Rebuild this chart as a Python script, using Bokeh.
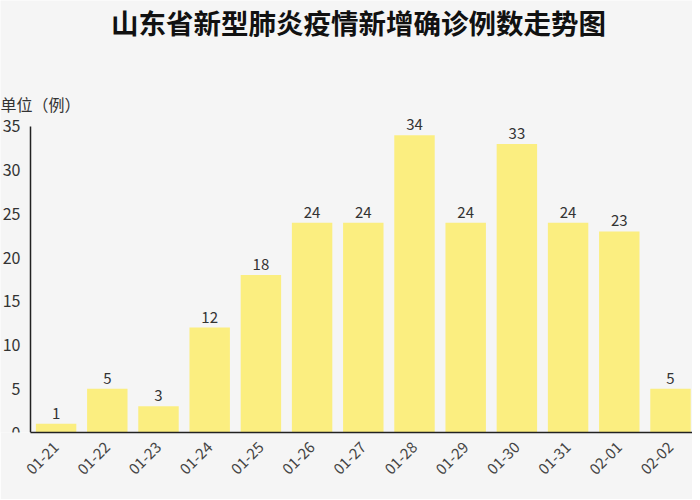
import math
from bokeh.plotting import figure
from bokeh.models import ColumnDataSource, Range1d, Label, FixedTicker
from bokeh.core.properties import value
from bokeh.embed import file_html
from bokeh.resources import INLINE

dates = ["01-21", "01-22", "01-23", "01-24", "01-25", "01-26", "01-27",
         "01-28", "01-29", "01-30", "01-31", "02-01", "02-02"]
cases = [1, 5, 3, 12, 18, 24, 24, 34, 24, 33, 24, 23, 5]
y_ticks = [0, 5, 10, 15, 20, 25, 30, 35]
title_text = "山东省新型肺炎疫情新增确诊例数走势图"
unit_text = "单位（例）"

FONT = "Noto Sans CJK SC"
BG = "#f5f5f5"

idx = list(range(len(dates)))
src = ColumnDataSource(dict(x=idx, v=cases, t=[str(c) for c in cases]))

p = figure(x_range=Range1d(-1.086, 12.43), y_range=Range1d(0, 49.41),
           width=692, height=499, output_backend="svg", toolbar_location=None,
           min_border_top=0, min_border_bottom=67, min_border_left=0, min_border_right=0)
p.background_fill_color = BG
p.border_fill_color = BG
p.outline_line_color = None

p.vbar(x="x", top="v", width=0.79, source=src, fill_color="#fbee80", line_color=None)
p.text(x="x", y="v", text="t", source=src, y_offset=-5, text_align="center",
       text_baseline="bottom", text_font=value(FONT), text_font_size="15px",
       text_color="#333333")

p.xgrid.grid_line_color = None
p.ygrid.grid_line_color = None

for ax in (p.xaxis, p.yaxis):
    ax.axis_line_color = "#222222"
    ax.axis_line_width = 1.5
    ax.major_tick_line_color = None
    ax.minor_tick_line_color = None
    ax.major_label_text_font = FONT
    ax.major_label_text_color = "#333333"

p.yaxis.ticker = FixedTicker(ticks=y_ticks)
p.yaxis.bounds = (0, 35)
p.yaxis.fixed_location = -0.5
p.yaxis.major_label_text_font_size = "16px"
p.yaxis.major_label_standoff = 4

p.xaxis.ticker = FixedTicker(ticks=idx)
p.xaxis.major_label_overrides = {i: d for i, d in zip(idx, dates)}
p.xaxis.bounds = (-0.5, 13)
p.xaxis.major_label_text_font_size = "15px"
p.xaxis.major_label_text_color = "#444444"
p.xaxis.major_label_orientation = math.pi / 4
p.xaxis.major_label_standoff = 6

title = Label(x=358, y=411, x_units="screen", y_units="screen", text=title_text,
              text_font=FONT, text_font_size="27.5px", text_font_style="bold",
              text_color="#111111", text_align="center", text_baseline="middle")
unit = Label(x=0, y=329, x_units="screen", y_units="screen", text=unit_text,
             text_font=FONT, text_font_size="16px", text_color="#333333",
             text_baseline="middle")
p.add_layout(title)
p.add_layout(unit)

open("out.html", "w").write(file_html(p, INLINE))
